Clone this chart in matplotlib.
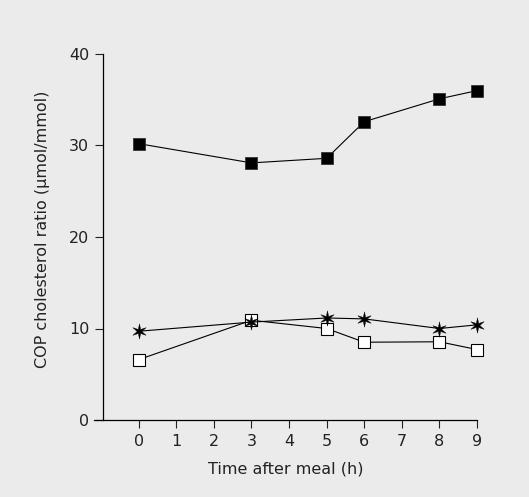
import matplotlib
matplotlib.use("Agg")
import matplotlib.pyplot as plt
from matplotlib.path import Path

plt.rcParams['font.family'] = ['DejaVu Sans']

# data
hours = [0, 3, 5, 6, 8, 9]
filled_sq = [30.2, 28.1, 28.6, 32.6, 35.1, 36.0]
stars = [9.7, 10.7, 11.15, 11.05, 10.0, 10.4]
open_sq = [6.6, 10.9, 10.0, 8.5, 8.55, 7.7]
xticks = list(range(10))
yticks = [0, 10, 20, 30, 40]

bg = '#ebebeb'
txt = '#222222'
thin_star = Path.unit_regular_star(6, innerCircle=0.3)

fig = plt.figure(figsize=(5.29, 4.97), dpi=100, facecolor=bg)
ax = fig.add_axes([94 / 529, 1 - 420 / 497, (477 - 94) / 529, (420 - 54) / 497])
ax.set_facecolor(bg)

ax.plot(hours, filled_sq, color='black', lw=0.8, marker='s', ms=8.5,
        mfc='black', mec='#333333', mew=0.6, zorder=3, clip_on=False)
ax.plot(hours, stars, color='black', lw=0.8, marker=thin_star, ms=11,
        mfc='black', mec='black', mew=0.3, zorder=4, clip_on=False)
ax.plot(hours, open_sq, color='black', lw=0.8, marker='s', ms=8.5,
        mfc='white', mec='black', mew=0.8, zorder=3, clip_on=False)

ax.set_xlim(-1.19, 9)
ax.set_ylim(0, 40)
ax.spines['top'].set_visible(False)
ax.spines['right'].set_visible(False)
ax.spines['left'].set_position(('data', -0.95))
for s in ['left', 'bottom']:
    ax.spines[s].set_linewidth(0.9)

ax.set_xticks(xticks)
ax.set_yticks(yticks)
ax.tick_params(direction='out', length=6, width=0.8, labelsize=11.5,
               colors=txt, pad=4)

ax.set_xlabel('Time after meal (h)', fontsize=11.5, color=txt, labelpad=9)
ax.set_ylabel('COP cholesterol ratio (µmol/mmol)', fontsize=11.5, color=txt)
ax.yaxis.set_label_coords(-0.115, 0.52)

fig.savefig('out.png', dpi=100, facecolor=bg)
